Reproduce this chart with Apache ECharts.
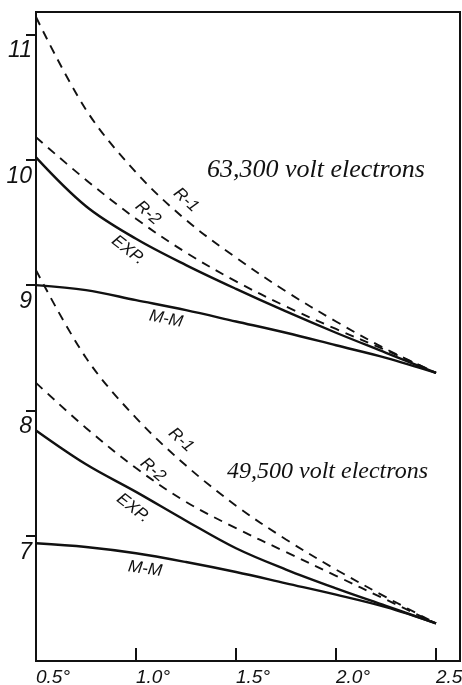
<!DOCTYPE html>
<html>
<head>
<meta charset="utf-8">
<script src="https://cdn.jsdelivr.net/npm/echarts@6/dist/echarts.min.js"></script>
<style>
html,body{margin:0;padding:0;background:#fff;}
#c{width:462px;height:685px;}
</style>
</head>
<body>
<div id="c"></div>
<script>
// Scattering angle (degrees)
const angles = [0.5, 0.75, 1.0, 1.25, 1.5, 1.75, 2.0, 2.25, 2.5];

// 63,300 volt electrons
const r1_63  = [11.14, 10.40, 9.90, 9.52, 9.22, 8.95, 8.71, 8.49, 8.30];
const r2_63  = [10.18, 9.84, 9.53, 9.26, 9.03, 8.83, 8.65, 8.48, 8.30];
const exp_63 = [10.02, 9.63, 9.37, 9.16, 8.97, 8.79, 8.62, 8.46, 8.30];
const mm_63  = [9.00, 8.96, 8.88, 8.80, 8.71, 8.62, 8.52, 8.42, 8.30];

// 49,500 volt electrons
const r1_49  = [9.12, 8.42, 7.94, 7.56, 7.24, 6.97, 6.73, 6.51, 6.30];
const r2_49  = [8.22, 7.86, 7.54, 7.27, 7.06, 6.87, 6.68, 6.49, 6.30];
const exp_49 = [7.84, 7.57, 7.35, 7.12, 6.90, 6.73, 6.58, 6.44, 6.30];
const mm_49  = [6.94, 6.91, 6.86, 6.79, 6.71, 6.62, 6.53, 6.43, 6.30];

const xTickValues = [0.5, 1.0, 1.5, 2.0, 2.5];
const xTickLabels = ['0.5°', '1.0°', '1.5°', '2.0°', '2.5°'];
const yTickValues = [7, 8, 9, 10, 11];
const yTickLabels = ['7', '8', '9', '10', '11'];

const INK = '#111';
const pair = ys => angles.map((x, i) => [x, ys[i]]);
function curve(name, ys, dashed) {
  return {
    name: name, type: 'line', data: pair(ys), smooth: 0.35,
    symbol: 'none', silent: true,
    lineStyle: dashed
      ? { color: INK, width: 1.9, type: [9, 7] }
      : { color: INK, width: 2.4, type: 'solid' }
  };
}

const chart = echarts.init(document.getElementById('c'), null, { renderer: 'canvas' });

const lblFont = { fontFamily: 'Liberation Sans', fontStyle: 'italic', fontSize: 17, fill: INK };
function lbl(text, x, y, rot, extra) {
  return { type: 'text', x: x, y: y, rotation: rot, silent: true,
    style: Object.assign({ text: text, align: 'center', verticalAlign: 'middle' }, lblFont, extra || {}) };
}
const titleStyle = { fontFamily: 'Liberation Serif', fontStyle: 'italic', fill: INK };

chart.setOption({
  backgroundColor: '#fff',
  animation: false,
  grid: { left: 36, right: 2, top: 12, bottom: 24, show: true, borderColor: INK, borderWidth: 2,
    backgroundColor: 'transparent', containLabel: false, outerBoundsMode: 'none' },
  xAxis: {
    type: 'value', min: 0.5, max: 2.62, interval: 0.5,
    axisLine: { show: true, lineStyle: { color: INK, width: 2 } },
    axisTick: { show: true, inside: true, length: 13, lineStyle: { color: INK, width: 2 },
      customValues: xTickValues.slice(1) },
    axisLabel: { show: true, customValues: xTickValues,
      formatter: v => xTickLabels[xTickValues.findIndex(t => Math.abs(t - v) < 1e-6)] || '',
      color: INK, fontFamily: 'Liberation Sans', fontStyle: 'italic', fontSize: 19, align: 'left', margin: 7,
      hideOverlap: false },
    splitLine: { show: false }
  },
  yAxis: {
    type: 'value', min: 6, max: 11.18, interval: 1,
    axisLine: { show: true, lineStyle: { color: INK, width: 2 } },
    axisTick: { show: true, inside: false, length: 10, lineStyle: { color: INK, width: 2 },
      customValues: yTickValues },
    axisLabel: { show: true, customValues: yTickValues,
      formatter: v => yTickLabels[yTickValues.indexOf(Math.round(v))] || '',
      color: INK, fontFamily: 'Liberation Sans', fontStyle: 'italic', fontSize: 23,
      verticalAlign: 'top', padding: [5, 0, 0, 0], margin: 4 },
    splitLine: { show: false }
  },
  series: [
    curve('R-1 63,300', r1_63, true),
    curve('R-2 63,300', r2_63, true),
    curve('EXP 63,300', exp_63, false),
    curve('M-M 63,300', mm_63, false),
    curve('R-1 49,500', r1_49, true),
    curve('R-2 49,500', r2_49, true),
    curve('EXP 49,500', exp_49, false),
    curve('M-M 49,500', mm_49, false)
  ],
  graphic: [
    { type: 'text', x: 207, y: 170, silent: true,
      style: Object.assign({ text: '63,300 volt electrons', align: 'left', verticalAlign: 'middle', fontSize: 26 }, titleStyle) },
    { type: 'text', x: 227, y: 472, silent: true,
      style: Object.assign({ text: '49,500 volt electrons', align: 'left', verticalAlign: 'middle', fontSize: 24 }, titleStyle) },
    lbl('R-1', 186, 200, -0.75),
    lbl('R-2', 148, 213, -0.72),
    lbl('EXP.', 128, 250, -0.66),
    lbl('M-M', 166, 319, -0.2),
    lbl('R-1', 181, 440, -0.75),
    lbl('R-2', 153, 470, -0.72),
    lbl('EXP.', 133, 508, -0.66),
    lbl('M-M', 145, 569, -0.14)
  ]
});
</script>
</body>
</html>
